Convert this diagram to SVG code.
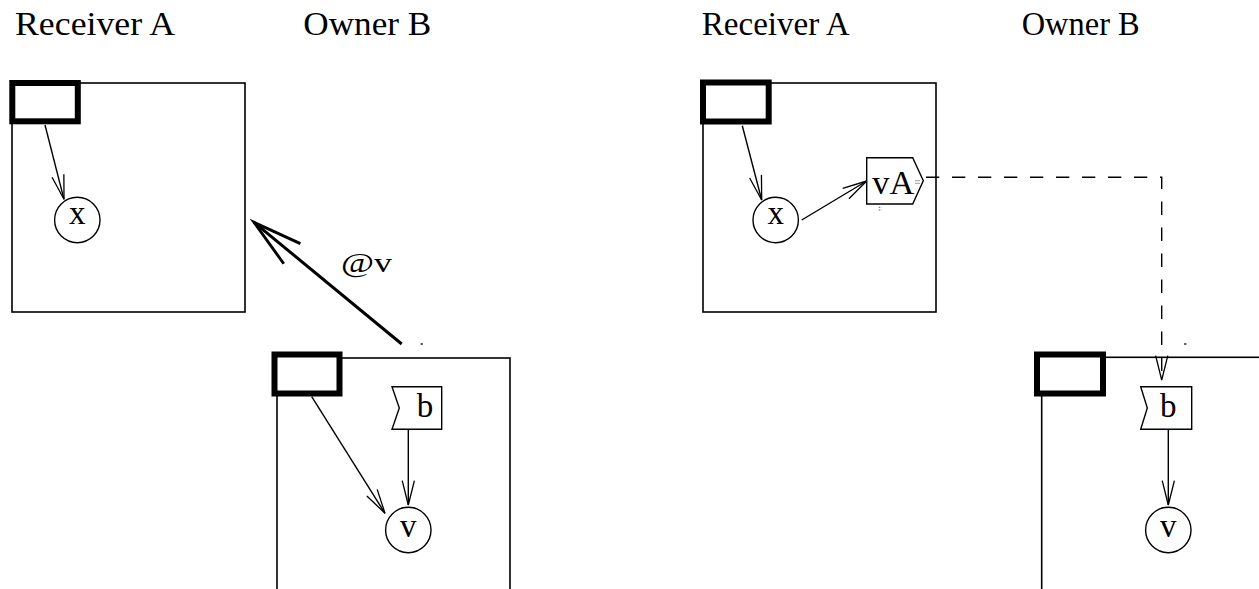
<svg xmlns="http://www.w3.org/2000/svg" width="1259" height="589" viewBox="0 0 1259 589">
<style>
  .box { fill: none; stroke: #000; stroke-width: 1.6; }
  .thread { fill: #fff; stroke: #000; stroke-width: 6; }
  .node { fill: #fff; stroke: #000; stroke-width: 1.4; }
  .conn { fill: none; stroke: #000; stroke-width: 1.4; }
  .thick { fill: none; stroke: #000; stroke-width: 3; }
  .dash { fill: none; stroke: #000; stroke-width: 1.4; stroke-dasharray: 13.3 12.7; }
  .tick { stroke: #000; stroke-width: 1.2; }
  .lbl { font-family: "Liberation Serif", "Times New Roman", serif; font-size: 33px; fill: #000; }
  .nlbl { font-family: "Liberation Serif", "Times New Roman", serif; font-size: 33px; fill: #000; text-anchor: middle; }
</style>
<defs>
  <marker id="arr" markerUnits="userSpaceOnUse" orient="auto" markerWidth="30" markerHeight="20" refX="0" refY="0" viewBox="-30 -10 32 20" overflow="visible">
    <path d="M-26,-6.5 L0,0 L-26,6.5" fill="none" stroke="#000" stroke-width="1.4"/>
  </marker>
  <marker id="arrThick" markerUnits="userSpaceOnUse" orient="auto" markerWidth="60" markerHeight="40" refX="0" refY="0" viewBox="-60 -20 62 40" overflow="visible">
    <path d="M-51,-13.5 L0,0 L-51,13.5" fill="none" stroke="#000" stroke-width="3"/>
  </marker>
</defs>

<rect x="0" y="0" width="1259" height="589" fill="#fff"/>

<!-- Titles -->
<g id="title-receiver-left"><text class="lbl" x="15" y="35" textLength="160" lengthAdjust="spacingAndGlyphs">Receiver A</text></g>
<g id="title-owner-left"><text class="lbl" x="303.3" y="35" textLength="128" lengthAdjust="spacingAndGlyphs">Owner B</text></g>
<g id="title-receiver-right"><text class="lbl" x="701.7" y="35" textLength="148" lengthAdjust="spacingAndGlyphs">Receiver A</text></g>
<g id="title-owner-right"><text class="lbl" x="1021.7" y="35" textLength="118" lengthAdjust="spacingAndGlyphs">Owner B</text></g>

<!-- Left diagram -->
<g id="receiverA-left">
  <rect class="box" x="12" y="83" width="233" height="229"/>
</g>
<g id="ownerB-left">
  <rect class="box" x="277" y="358" width="233" height="260"/>
</g>
<g id="threadA-left"><rect class="thread" x="12.3" y="83" width="65.5" height="38.3"/></g>
<g id="threadB-left"><rect class="thread" x="274.5" y="354.5" width="65" height="39"/></g>
<g id="x-left">
  <circle class="node" cx="77.3" cy="220" r="22.7"/>
  <text class="nlbl" x="77.3" y="224">x</text>
</g>
<g id="b-left">
  <polygon class="node" points="392,386.7 441.7,386.7 441.7,429.3 392,429.3 399.3,408"/>
  <text class="nlbl" x="425" y="417.3">b</text>
</g>
<g id="v-left">
  <circle class="node" cx="408.3" cy="530" r="22.7"/>
  <text class="nlbl" x="408.3" y="536.7">v</text>
</g>

<!-- Right diagram -->
<g id="receiverA-right">
  <rect class="box" x="703" y="83" width="233" height="229"/>
</g>
<g id="ownerB-right">
  <rect class="box" x="1041.7" y="357.3" width="260" height="260"/>
</g>
<g id="threadA-right"><rect class="thread" x="703" y="82.5" width="65.7" height="39"/></g>
<g id="threadB-right"><rect class="thread" x="1037" y="354.5" width="66" height="39"/></g>
<g id="x-right">
  <circle class="node" cx="775.7" cy="220" r="22.7"/>
  <text class="nlbl" x="775.7" y="224">x</text>
</g>
<g id="vA-right">
  <polygon class="node" points="866.7,157.7 912.7,157.7 923.3,180.8 912.7,204 866.7,204"/>
  <text class="lbl" x="872.3" y="194" style="font-size:34.5px" textLength="42" lengthAdjust="spacingAndGlyphs">vA</text>
  <path d="M915.5,180.7 H920 M915.5,183.3 H920 M878.8,207.3 H881.2 M878.8,210 H881.2" stroke="#000" stroke-width="0.8" stroke-dasharray="1 1" fill="none"/>
</g>
<g id="b-right">
  <polygon class="node" points="1140.7,386.7 1191.7,386.7 1191.7,429.3 1140.7,429.3 1147.3,408"/>
  <text class="nlbl" x="1168.3" y="417.3">b</text>
</g>
<g id="v-right">
  <circle class="node" cx="1168.3" cy="530" r="22.7"/>
  <text class="nlbl" x="1168.3" y="536.7">v</text>
</g>

<!-- Connectors -->
<g id="connectors">
  <line class="conn" x1="45" y1="125" x2="64" y2="199.3" marker-end="url(#arr)"/>
  <line class="thick" x1="401.7" y1="344" x2="254" y2="222.3" marker-end="url(#arrThick)"/>
  <line class="conn" x1="311.7" y1="396.7" x2="385" y2="513.3" marker-end="url(#arr)"/>
  <line class="conn" x1="408.3" y1="429.3" x2="408.3" y2="505" marker-end="url(#arr)"/>
  <line class="conn" x1="742.3" y1="125.7" x2="761.7" y2="200" marker-end="url(#arr)"/>
  <line class="conn" x1="801.7" y1="220" x2="866.7" y2="181" marker-end="url(#arr)"/>
  <path class="dash" d="M926,177.3 H1161.7 V380" marker-end="url(#arr)"/>
  <line class="conn" x1="1168.3" y1="429.3" x2="1168.3" y2="505" marker-end="url(#arr)"/>
  <line class="tick" x1="420.5" y1="344" x2="423" y2="344"/>
  <line class="tick" x1="1184" y1="344" x2="1186.5" y2="344"/>
  <text class="lbl" x="341" y="272" style="font-size:28px" textLength="51" lengthAdjust="spacingAndGlyphs">@v</text>
</g>
</svg>
